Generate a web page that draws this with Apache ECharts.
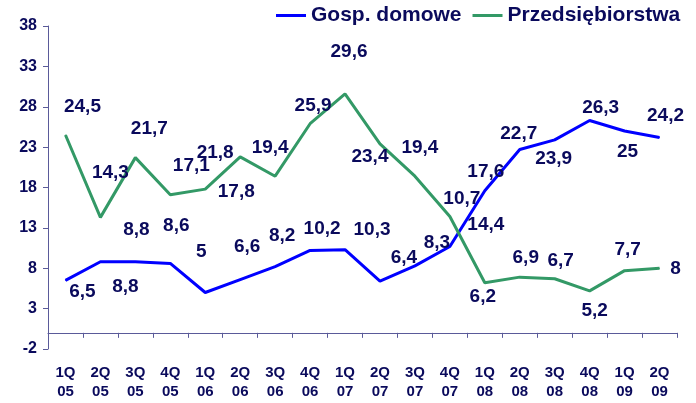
<!DOCTYPE html>
<html>
<head>
<meta charset="utf-8">
<script src="https://cdn.jsdelivr.net/npm/echarts@6/dist/echarts.min.js"></script>
<style>
  html, body { margin: 0; padding: 0; background: #fff; }
  #chart { width: 696px; height: 403px; }
</style>
</head>
<body>
<div id="chart"></div>
<script>
// kwartały
const quarters = ['1Q\n05', '2Q\n05', '3Q\n05', '4Q\n05', '1Q\n06', '2Q\n06', '3Q\n06', '4Q\n06', '1Q\n07',
  '2Q\n07', '3Q\n07', '4Q\n07', '1Q\n08', '2Q\n08', '3Q\n08', '4Q\n08', '1Q\n09', '2Q\n09'];

// gospodarstwa domowe (niebieska linia)
const households = [6.5, 8.8, 8.8, 8.6, 5, 6.6, 8.2, 10.2, 10.3, 6.4, 8.3, 10.7, 17.6, 22.7, 23.9, 26.3, 25, 24.2];
// przedsiębiorstwa (zielona linia)
const companies = [24.5, 14.3, 21.7, 17.1, 17.8, 21.8, 19.4, 25.9, 29.6, 23.4, 19.4, 14.4, 6.2, 6.9, 6.7, 5.2, 7.7, 8];

// przesunięcia etykiet [dx, dy] względem punktu
const householdsLabelShift = [[17, 11], [25, 25], [1, -32], [6, -38], [-4, -41], [7, -33], [7, -31], [12, -22], [27, -20],
  [24, -23], [22, -23], [12, -48], [1, -19], [-1, -16], [-1, 19], [11, -13], [3, 21], [6, -22]];
const companiesLabelShift = [[17, -28], [10, -45], [14, -29], [21, -29], [31, 3], [-25, -4], [-5, -28], [3, -18], [4, -42],
  [-10, 13], [5, -28], [36, 8], [-2, 14], [6, -19], [6, -18], [5, 20], [3, -21], [16, 1]];

const textColor = '#0a0a5c';
const axisColor = '#5a5a99';
const fontFamily = '"Liberation Sans", Arial, sans-serif';

const fmt = v => String(v).replace('.', ',');

const buildData = (values, shifts) => values.map((v, i) => ({
  value: v,
  label: { offset: shifts[i] }
}));

const makeSeries = (name, color, values, shifts) => ({
  name: name,
  type: 'line',
  data: buildData(values, shifts),
  symbol: 'circle',
  symbolSize: 1,
  itemStyle: { color: color },
  lineStyle: { color: color, width: 3 },
  label: {
    show: true,
    position: 'inside',
    align: 'center',
    verticalAlign: 'middle',
    color: textColor,
    fontSize: 19,
    fontWeight: 'bold',
    fontFamily: fontFamily,
    formatter: p => fmt(p.value)
  },
  emphasis: { disabled: true },
  animation: false
});

const chart = echarts.init(document.getElementById('chart'));
chart.setOption({
  backgroundColor: '#fff',
  animation: false,
  grid: { left: 48, right: 19, top: 26, bottom: 54 },
  legend: {
    left: 276,
    top: 5,
    padding: 0,
    icon: 'rect',
    itemWidth: 30,
    itemHeight: 3,
    itemGap: 11,
    itemStyle: { borderWidth: 0 },
    textStyle: { color: textColor, fontSize: 21, fontWeight: 'bold', fontFamily: fontFamily },
    data: ['Gosp. domowe', 'Przedsiębiorstwa']
  },
  xAxis: {
    type: 'category',
    data: quarters,
    boundaryGap: true,
    axisLine: { lineStyle: { color: axisColor, width: 1 } },
    axisTick: { show: true, length: 5, lineStyle: { color: axisColor } },
    axisLabel: {
      interval: 0,
      margin: 14,
      color: textColor,
      fontSize: 15,
      fontWeight: 'bold',
      lineHeight: 19,
      fontFamily: fontFamily
    },
    splitLine: { show: false }
  },
  yAxis: {
    type: 'value',
    min: -2,
    max: 38,
    interval: 5,
    axisLine: { show: true, lineStyle: { color: axisColor, width: 1 } },
    axisTick: { show: true, length: 5, lineStyle: { color: axisColor } },
    axisLabel: {
      margin: 11,
      color: textColor,
      fontSize: 16,
      fontWeight: 'bold',
      fontFamily: fontFamily
    },
    splitLine: { show: false }
  },
  series: [
    makeSeries('Gosp. domowe', '#0000ff', households, householdsLabelShift),
    makeSeries('Przedsiębiorstwa', '#339966', companies, companiesLabelShift)
  ]
});
</script>
</body>
</html>
